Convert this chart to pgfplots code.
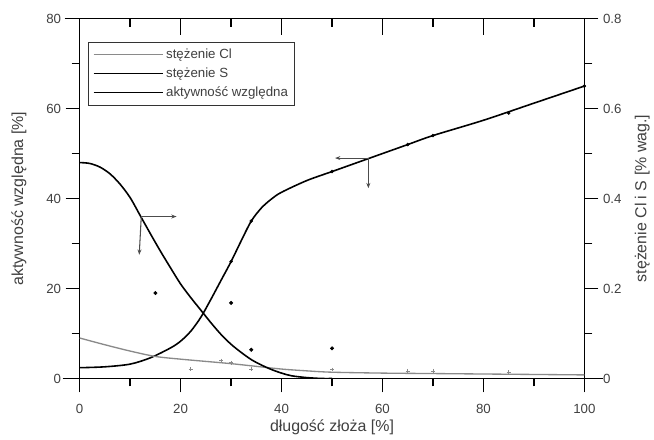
\documentclass[border=0pt]{standalone}
\usepackage{fontspec}
\setmainfont{Liberation Sans}
\usepackage{pgfplots}
\pgfplotsset{compat=1.18}
\usetikzlibrary{arrows.meta}
\definecolor{ClGray}{HTML}{8A8A8A}
\definecolor{TxtGray}{HTML}{404040}

\pgfplotsset{
  common/.style={
    scale only axis, width=380pt, height=271pt,
    xmin=0, xmax=100,
    xtick={0,20,...,100}, minor x tick num=1,
    tick align=outside,
    major tick length=10.5pt, minor tick length=6pt,
    every tick/.style={black, line width=1pt},
    axis line style={line width=1.1pt},
    tick label style={font=\fontsize{10}{12}\selectfont, color=TxtGray},
    label style={font=\fontsize{12}{14}\selectfont, color=TxtGray},
    /pgf/number format/assume math mode=true,
  }
}

\begin{document}
\begin{tikzpicture}
% left axis: relative activity
\begin{axis}[common,
  ymin=0, ymax=80, ytick={0,20,...,80}, minor y tick num=1,
  xtick pos=bottom, ytick pos=left,
  xticklabel style={yshift=-5pt},
  xlabel={długość złoża [\%]},
  ylabel={aktywność względna [\%]},
  xlabel style={at={(rel axis cs:0.5,0)}, anchor=center, yshift=-36.75pt},
  ylabel style={at={(rel axis cs:0,0.5)}, anchor=center, yshift=45.75pt},
  clip=false,
]
\draw[line width=1.1pt] (rel axis cs:-0.034,0) -- (rel axis cs:1.037,0);
\draw[line width=1.1pt] (rel axis cs:-0.03,1) -- (rel axis cs:1,1);
\addplot[black, line width=1.2pt, smooth] coordinates {
(0,2.4) (5,2.6) (10,3.2) (14,4.6) (18,6.8) (20,8.3) (22,10.5) (24,13.6)
(26,17.6) (28,21.8) (30,26) (32,30.6) (34,35) (36,37.9) (38,39.9) (40,41.4)
(45,44) (50,46) (55,48) (60,50) (65,52) (70,54) (80,57.4) (90,61.2) (100,65)};
\addplot[black, only marks, mark=*, mark size=1.1pt] coordinates {
(30,26) (34,35) (50,46) (65,52) (70,54) (85,59) (100,65)};
% arrow to left axis
\draw[black!70, line width=0.8pt, -{Stealth[length=4pt]}] (axis cs:57.2,49) -- (axis cs:50.6,49);
\draw[black!70, line width=0.8pt, -{Stealth[length=4pt]}] (axis cs:57.2,49) -- (axis cs:57.2,42.3);
\end{axis}

% top ticks (pointing inward)
\begin{axis}[common,
  ymin=0, ymax=80,
  axis x line*=top, axis y line=none,
  tick align=inside, xticklabels={},
  major tick length=12pt, minor tick length=6pt,
]
\end{axis}

% right axis: Cl and S concentration
\begin{axis}[common,
  ymin=0, ymax=0.8, ytick={0,0.2,...,0.8}, minor y tick num=1,
  axis y line*=right, axis x line=none,
  ylabel={stężenie Cl i S [\% wag.]},
  ylabel style={at={(rel axis cs:1,0.5)}, anchor=center, yshift=-43.5pt},
  legend style={font=\fontsize{10}{12}\selectfont, draw=black!80, line width=0.9pt,
    at={(0.017,0.936)}, anchor=north west, row sep=1.5pt, inner sep=3pt,
    text=TxtGray},
  legend cell align=left,
  legend image code/.code={\draw[#1] (0pt,0pt) -- (52pt,0pt);},
]
\addplot[ClGray, line width=1pt, smooth] coordinates {
(0,0.090) (5,0.075) (10,0.061) (15,0.049) (20,0.043) (25,0.038) (30,0.033)
(35,0.027) (40,0.021) (45,0.017) (50,0.014) (60,0.012) (70,0.011) (80,0.010)
(90,0.009) (100,0.008)};
\addlegendentry{stężenie Cl}
\addplot[black, line width=1.2pt, smooth] coordinates {
(0,0.480) (2,0.478) (4,0.470) (6,0.455) (8,0.432) (10,0.402) (12,0.362)
(14,0.322) (16,0.283) (18,0.246) (20,0.210) (22,0.180) (24,0.152) (26,0.124)
(28,0.098) (30,0.076) (32,0.058) (34,0.042) (36,0.030) (38,0.020) (40,0.012)
(42,0.006) (45,0.002) (48,0.000) (50,0.000)};
\addlegendentry{stężenie S}
\addlegendimage{black, line width=1.2pt}
\addlegendentry{aktywność względna}
\addplot[ClGray, only marks, mark=+, mark size=1.5pt, forget plot] coordinates {
(22,0.021) (28,0.040) (30,0.035) (34,0.021) (50,0.020) (65,0.017) (70,0.017) (85,0.014)};
\addplot[black, only marks, mark=*, mark size=1.3pt, forget plot] coordinates {
(15,0.19) (30,0.168) (34,0.064) (50,0.067)};
% arrow to right axis
\draw[black!70, line width=0.8pt, -{Stealth[length=4pt]}] (axis cs:12.2,0.36) -- (axis cs:19.2,0.36);
\draw[black!70, line width=0.8pt, -{Stealth[length=4pt]}] (axis cs:12.2,0.36) -- (axis cs:11.8,0.275);
\end{axis}
\path[use as bounding box] (-60pt,-45.75pt) rectangle (430.5pt,285pt);
\end{tikzpicture}
\end{document}
